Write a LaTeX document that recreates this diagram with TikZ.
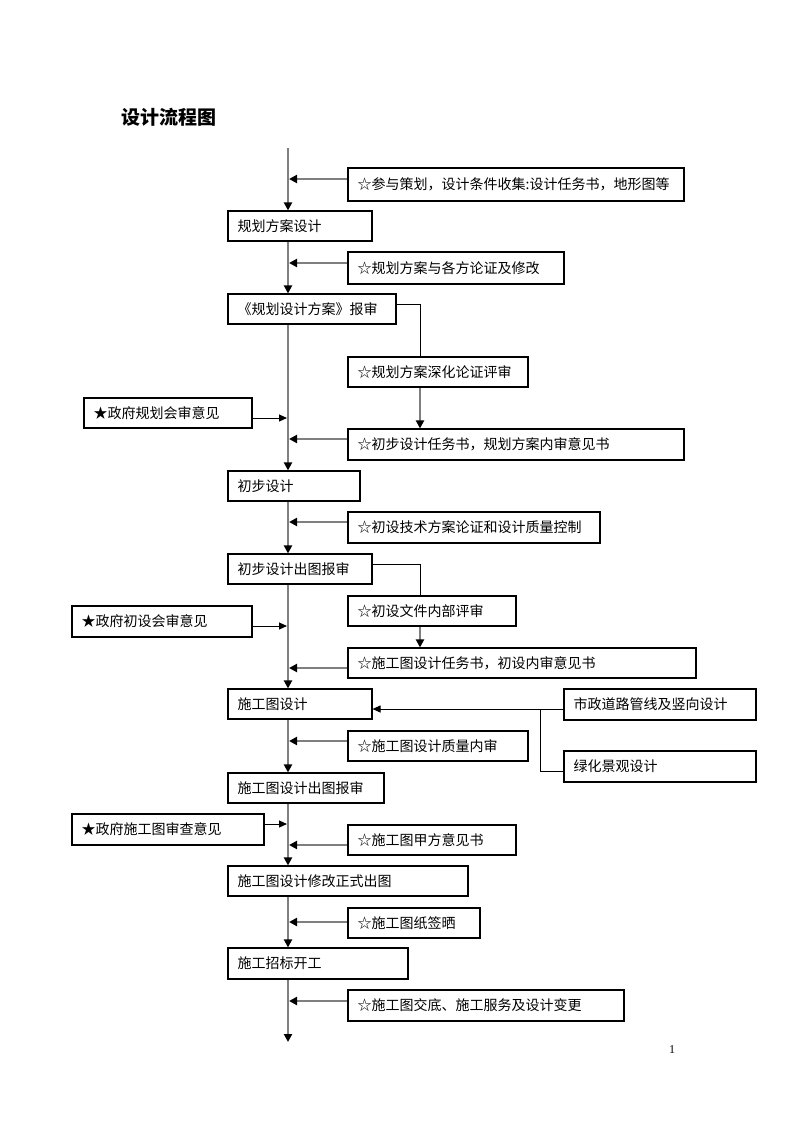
\documentclass[tikz,border=0pt]{standalone}
\usepackage{fontspec}
\newfontfamily\cjk{Noto Sans CJK SC}
\setmainfont{Liberation Serif}
\usetikzlibrary{arrows.meta}
\definecolor{ln}{HTML}{7F7F7F}
\tikzset{
  boxs/.style={draw=black, line width=1.1pt, rectangle, inner sep=0pt},
  txt/.style={anchor=west, inner sep=0pt, font=\cjk\fontsize{14}{16}\selectfont},
  spine/.style={draw=ln, line width=2pt, -{Triangle[length=8pt,width=8pt,color=black]}},
  feed/.style={draw=ln, line width=2pt, -{Triangle[length=8pt,width=8pt,color=black]}},
  thinline/.style={draw=black, line width=1pt},
  thinarr/.style={draw=black, line width=1pt, -{Triangle[length=8pt,width=7pt]}},
}
\newcommand\mkbox[6]{%
  \node[boxs, minimum width={(#4-#2)*1pt}, minimum height={(#5-#3)*1pt}] (#1) at ({(#2+#4)/2},{(#3+#5)/2}) {};
  \node[txt] (#1t) at ([xshift=10pt]#1.west) {#6};}
\begin{document}
\begin{tikzpicture}[x=1pt,y=-1pt]
\path[use as bounding box, fill=white] (0,0) rectangle (793,1122);

\node[font=\cjk\bfseries\fontsize{19}{21}\selectfont, anchor=west, inner sep=0pt] (title) at (121,117) {设计流程图};

% main column boxes
\mkbox{m1}{228}{211}{372}{241}{规划方案设计}
\mkbox{m2}{228}{294}{396}{324}{《规划设计方案》报审}
\mkbox{m3}{228}{471}{360}{501}{初步设计}
\mkbox{m4}{228}{554}{372}{584}{初步设计出图报审}
\mkbox{m5}{228}{689}{372}{719}{施工图设计}
\mkbox{m6}{228}{773}{384}{803}{施工图设计出图报审}
\mkbox{m7}{228}{866}{468}{896}{施工图设计修改正式出图}
\mkbox{m8}{228}{948}{408}{979}{施工招标开工}

% side boxes
\mkbox{b1}{348}{168}{684}{201}{☆参与策划，设计条件收集:设计任务书，地形图等}
\mkbox{b2}{348}{252}{564}{284}{☆规划方案与各方论证及修改}
\mkbox{b3}{348}{357}{528}{387}{☆规划方案深化论证评审}
\mkbox{b4}{348}{429}{684}{460}{☆初步设计任务书，规划方案内审意见书}
\mkbox{b5}{348}{512}{600}{543}{☆初设技术方案论证和设计质量控制}
\mkbox{b6}{348}{596}{516}{626}{☆初设文件内部评审}
\mkbox{b7}{348}{648}{696}{678}{☆施工图设计任务书，初设内审意见书}
\mkbox{b8}{348}{731}{528}{761}{☆施工图设计质量内审}
\mkbox{b9}{348}{825}{516}{855}{☆施工图甲方意见书}
\mkbox{b10}{348}{908}{480}{938}{☆施工图纸签晒}
\mkbox{b11}{348}{990}{624}{1021}{☆施工图交底、施工服务及设计变更}

% government boxes
\mkbox{g1}{84}{398}{252}{428}{★政府规划会审意见}
\mkbox{g2}{72}{606}{252}{637}{★政府初设会审意见}
\mkbox{g3}{72}{814}{264}{845}{★政府施工图审查意见}

% right boxes
\mkbox{r1}{564}{689}{756}{720}{市政道路管线及竖向设计}
\mkbox{r2}{564}{751}{756}{782}{绿化景观设计}

\node[inner sep=0pt, font=\fontsize{12}{14}\selectfont] (pg) at (672,1050) {1};

% spine
\coordinate (sp) at (288,0);
\coordinate (top) at (288,148);
\coordinate (bot) at (288,1042);
\draw[spine] (top) -- (m1.north -| sp);
\draw[spine] (m1.south -| sp) -- (m2.north -| sp);
\draw[spine] (m2.south -| sp) -- (m3.north -| sp);
\draw[spine] (m3.south -| sp) -- (m4.north -| sp);
\draw[spine] (m4.south -| sp) -- (m5.north -| sp);
\draw[spine] (m5.south -| sp) -- (m6.north -| sp);
\draw[spine] (m6.south -| sp) -- (m7.north -| sp);
\draw[spine] (m7.south -| sp) -- (m8.north -| sp);
\draw[spine] (m8.south -| sp) -- (bot);

% feeds into spine
\draw[feed] (b1.west |- 0,179) -- (289,179);
\draw[feed] (b2.west |- 0,263) -- (289,263);
\draw[feed] (b4.west |- 0,439) -- (289,439);
\draw[feed] (b5.west |- 0,522) -- (289,522);
\draw[feed] (b7.west |- 0,668) -- (289,668);
\draw[feed] (b8.west |- 0,741) -- (289,741);
\draw[feed] (b9.west |- 0,845) -- (289,845);
\draw[feed] (b10.west |- 0,922) -- (289,922);
\draw[feed] (b11.west |- 0,1001) -- (289,1001);

% government opinions
\draw[thinarr] (g1.east |- 0,418) -- (287,418);
\draw[thinarr] (g2.east |- 0,626) -- (287,626);
\draw[thinarr] (g3.east |- 0,824) -- (287,824);

% review branches
\draw[thinline] (m2.east |- 0,304) -| (420,0 |- b3.north);
\draw[feed] (420,0 |- b3.south) -- (420,0 |- b4.north);
\draw[thinline] (m4.east |- 0,564) -| (420,0 |- b6.north);
\draw[feed] (420,0 |- b6.south) -- (420,0 |- b7.north);

% right inputs
\draw[thinarr] (r1.west |- 0,709) -- (m5.east |- 0,709);
\draw[thinline] (r2.west |- 0,771) -| (540,709);
\end{tikzpicture}
\end{document}
